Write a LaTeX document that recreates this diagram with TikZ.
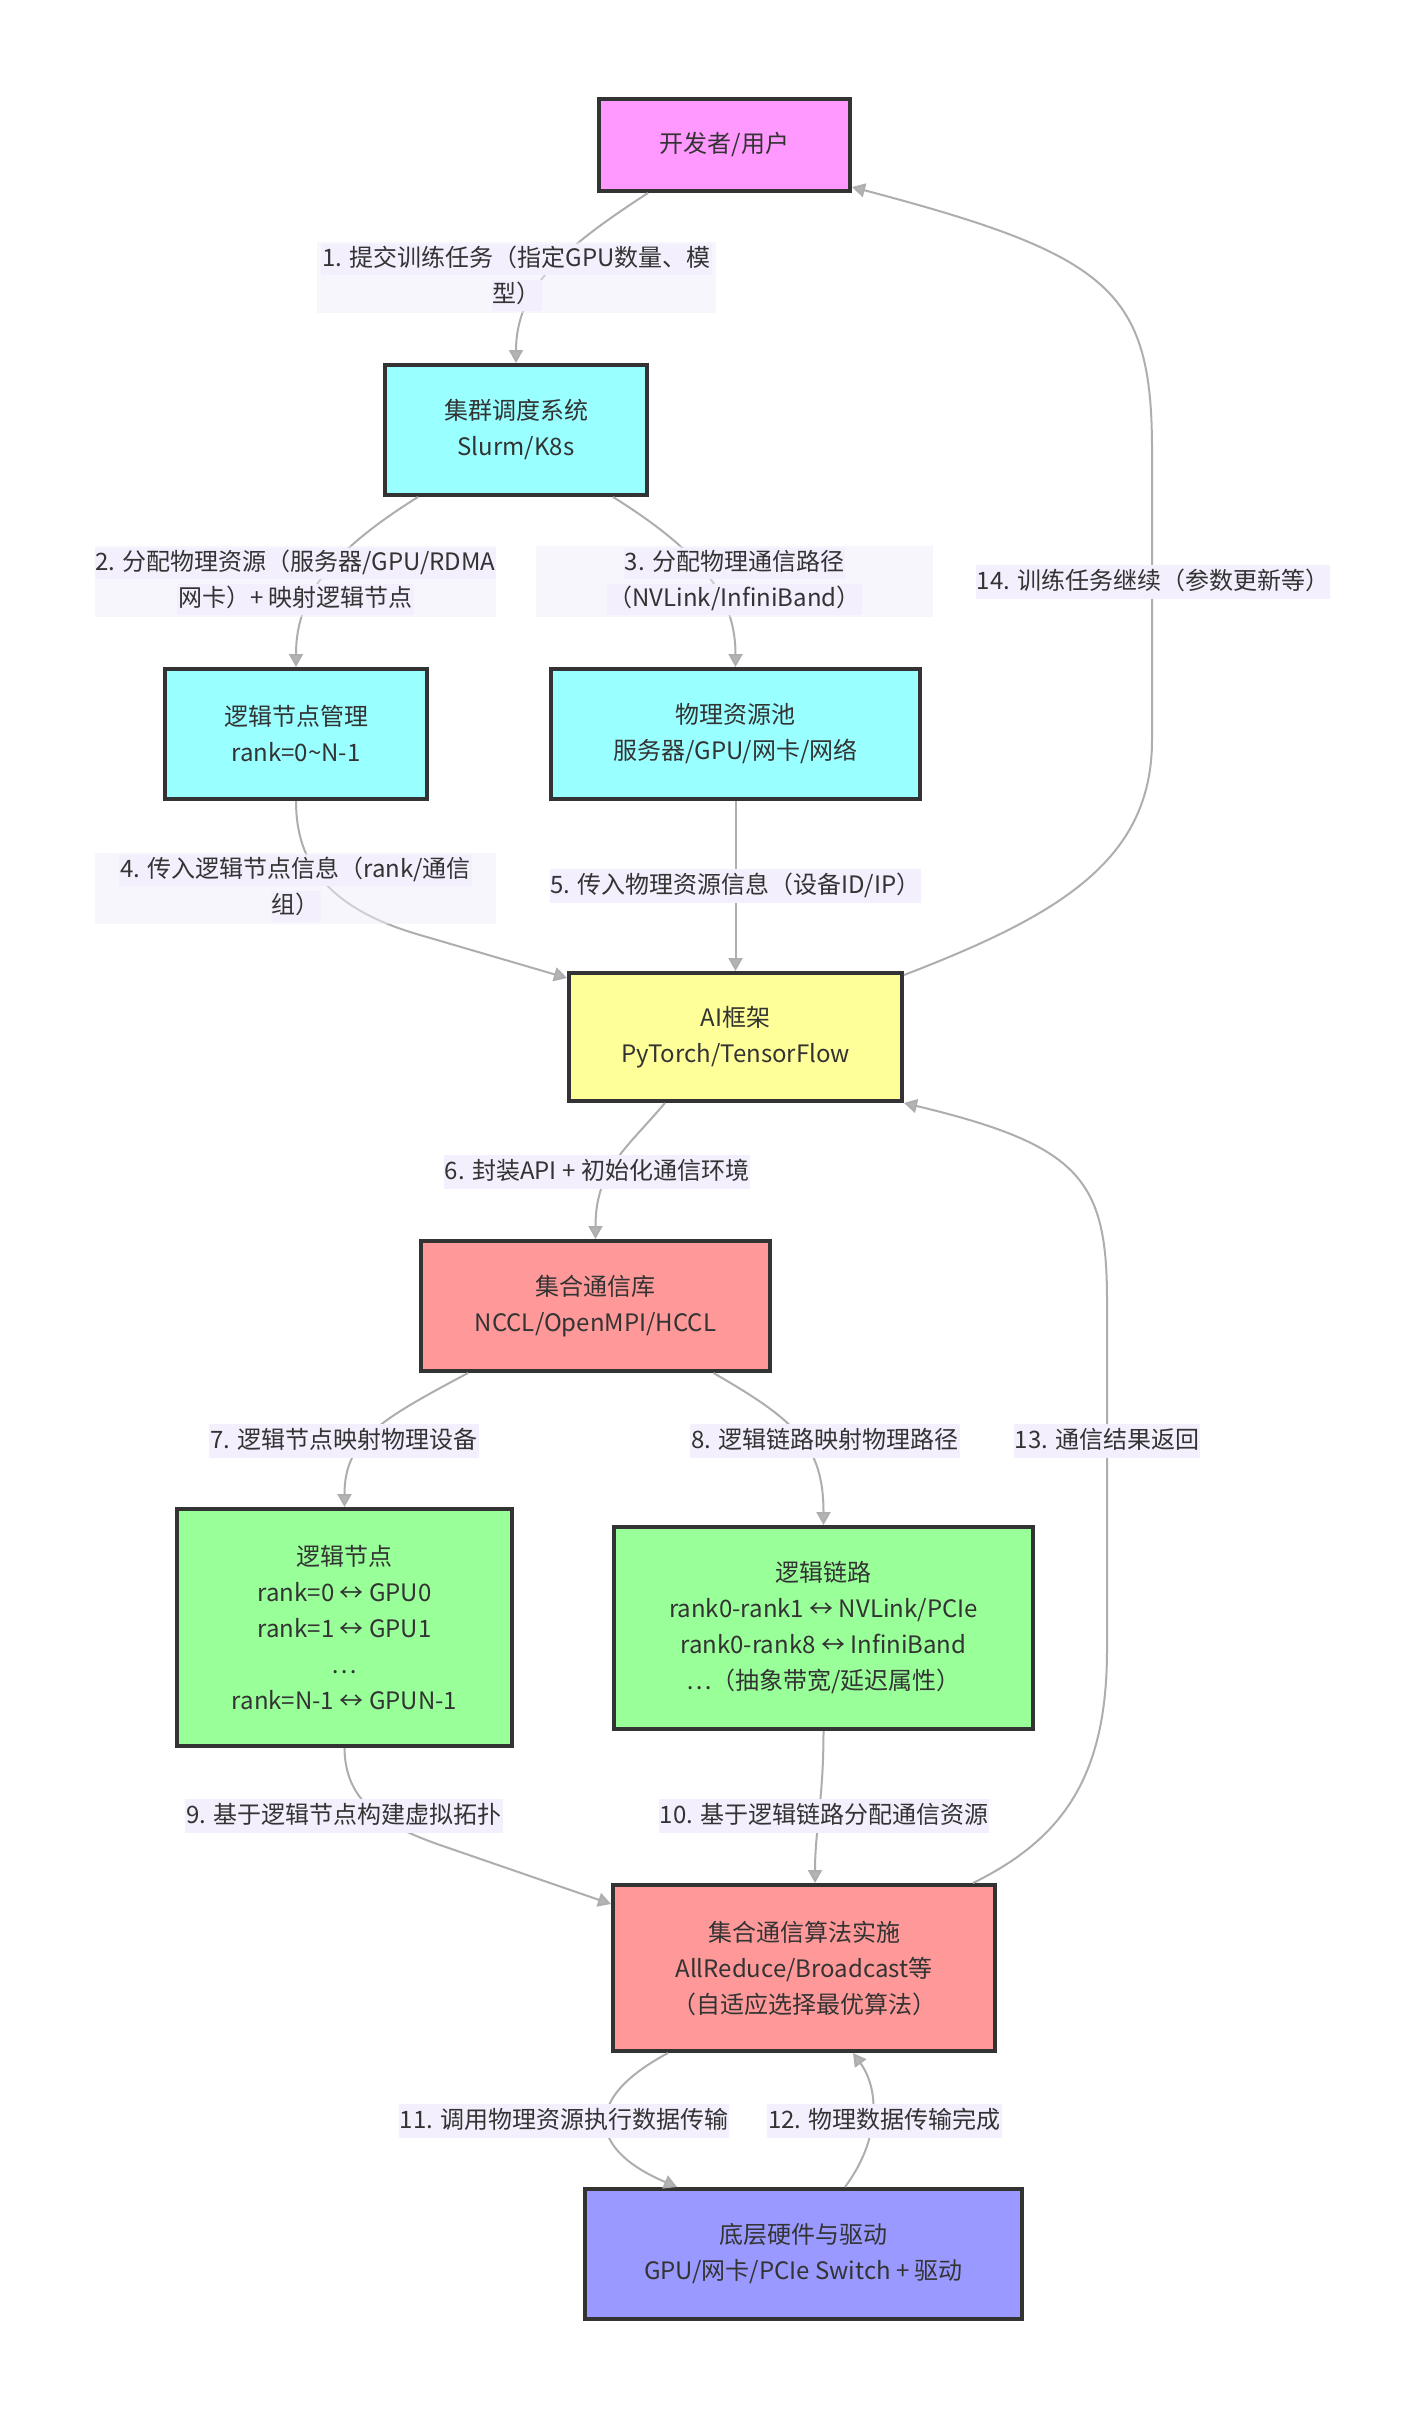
\documentclass[tikz,border=0pt]{standalone}
\usepackage{fontspec}
\setmainfont{Noto Sans CJK SC}
\usetikzlibrary{arrows.meta}
\definecolor{cpink}{HTML}{FF99FF}
\definecolor{ccyan}{HTML}{99FFFF}
\definecolor{cyel}{HTML}{FFFF99}
\definecolor{cred}{HTML}{FF9999}
\definecolor{cgreen}{HTML}{99FF99}
\definecolor{cblue}{HTML}{9999FF}
\definecolor{bord}{HTML}{333333}
\definecolor{txt}{HTML}{333333}
\definecolor{edgec}{HTML}{AEAEAE}
\definecolor{tipc}{HTML}{B4B4B4}
\definecolor{lav}{HTML}{F3EFFD}
\tikzset{
  box/.style={draw=bord, line width=4pt, rectangle, align=center, inner sep=0pt, text=txt, font=\fontsize{24}{36}\selectfont},
  conn/.style={draw=edgec, line width=2pt, -{Triangle[width=14pt,length=13pt,fill=tipc]}},
  lblout/.style={fill=lav, fill opacity=0.5, inner sep=0pt, minimum height=71pt},
  lblline/.style={fill=lav, text=txt, inner xsep=1pt, inner ysep=0pt, text height=21pt, text depth=7pt, minimum height=31pt, font=\fontsize{24}{36}\selectfont},
  lblsingle/.style={lblline, minimum height=34pt},
}
\begin{document}
\begin{tikzpicture}[x=1pt,y=-1pt]
\useasboundingbox (0,0) rectangle (1425,2416);
\fill[white] (0,0) rectangle (1425,2416);

% nodes
\node[box, fill=cpink, minimum width=251pt, minimum height=92pt] (dev) at (724.5,145) {开发者/用户};
\node[box, fill=ccyan, minimum width=262pt, minimum height=130pt] (sched) at (516,430) {集群调度系统\\Slurm/K8s};
\node[box, fill=ccyan, minimum width=262pt, minimum height=130pt] (lgm) at (296,734) {逻辑节点管理\\rank=0\textasciitilde N-1};
\node[box, fill=ccyan, minimum width=369pt, minimum height=130pt] (pool) at (735.5,734) {物理资源池\\服务器/GPU/网卡/网络};
\node[box, fill=cyel, minimum width=333pt, minimum height=128pt] (ai) at (735.5,1037) {AI框架\\PyTorch/TensorFlow};
\node[box, fill=cred, minimum width=349pt, minimum height=130pt] (lib) at (595.5,1306) {集合通信库\\NCCL/OpenMPI/HCCL};
\node[box, fill=cgreen, minimum width=335pt, minimum height=237pt] (lnodes) at (344.5,1627.5) {逻辑节点\\rank=0 ↔ GPU0\\rank=1 ↔ GPU1\\…\\rank=N-1 ↔ GPUN-1};
\node[box, fill=cgreen, minimum width=419pt, minimum height=202pt] (llinks) at (823.5,1628) {逻辑链路\\rank0-rank1 ↔ NVLink/PCIe\\rank0-rank8 ↔ InfiniBand\\…（抽象带宽/延迟属性）};
\node[box, fill=cred, minimum width=382pt, minimum height=166pt] (algo) at (804,1968) {集合通信算法实施\\AllReduce/Broadcast等\\（自适应选择最优算法）};
\node[box, fill=cblue, minimum width=437pt, minimum height=130pt] (hw) at (803.5,2254) {底层硬件与驱动\\GPU/网卡/PCIe Switch + 驱动};

% connectors
\draw[conn] ([xshift=-76.5pt]dev.south) .. controls (560,250) and (516,290) .. (sched.north);
\draw[conn] ([xshift=-98pt]sched.south) .. controls (325,555) and (296,600) .. (lgm.north);
\draw[conn] ([xshift=97pt]sched.south) .. controls (706,555) and (735.5,600) .. (pool.north);
\draw[conn] (lgm.south) .. controls (296,865) and (330,909) .. (420,935) -- ([yshift=-7pt]ai.north west);
\draw[conn] (pool.south) -- (ai.north);
\draw[conn] ([xshift=-70.5pt]ai.south) .. controls (625,1150) and (595.5,1170) .. (lib.north);
\draw[conn] ([xshift=-127.5pt]lib.south) .. controls (380,1420) and (344.5,1440) .. (lnodes.north);
\draw[conn] ([xshift=118pt]lib.south) .. controls (795,1420) and (823.5,1445) .. (llinks.north);
\draw[conn] (lnodes.south) .. controls (345,1800) and (380,1824) .. (440,1845) -- ([yshift=-21pt]algo.north west);
\draw[conn] (llinks.south) .. controls (823.5,1800) and (815,1830) .. ([xshift=11pt]algo.north);
\draw[conn] ([xshift=-136pt]algo.south) .. controls (580,2100) and (590,2150) .. ([xshift=-126.5pt]hw.north);
\draw[conn] ([xshift=41.5pt]hw.north) .. controls (880,2140) and (880,2090) .. ([xshift=49pt]algo.south);
\draw[conn] ([xshift=-24pt]algo.north east) .. controls (1060,1840) and (1107,1780) .. (1107,1650) -- (1107,1300) .. controls (1107,1180) and (1080,1145) .. (ai.south east);
\draw[conn] ([yshift=-4pt]ai.north east) .. controls (1060,915) and (1152,860) .. (1152,740) -- (1152,450) .. controls (1152,290) and (1110,255) .. ([yshift=6pt]dev.south east);

% labels
\node[lblout, minimum width=399pt] (l1) at (516.5,277.5) {};
\node[lblline] (l1a) at (516.5,259.5) {1. 提交训练任务（指定GPU数量、模};
\node[lblline] (l1b) at (516.5,295.5) {型）};

\node[lblout, minimum width=401pt] (l2) at (295.5,581.5) {};
\node[lblline] (l2a) at (295.5,563.5) {2. 分配物理资源（服务器/GPU/RDMA};
\node[lblline] (l2b) at (295.5,599.5) {网卡）+ 映射逻辑节点};

\node[lblout, minimum width=397pt] (l3) at (734.5,581.5) {};
\node[lblline] (l3a) at (734.5,563.5) {3. 分配物理通信路径};
\node[lblline] (l3b) at (734.5,599.5) {（NVLink/InfiniBand）};

\node[lblout, minimum width=401pt] (l4) at (295.5,888) {};
\node[lblline] (l4a) at (295.5,870) {4. 传入逻辑节点信息（rank/通信};
\node[lblline] (l4b) at (295.5,906) {组）};

\node[lblsingle] (l5) at (735.5,886) {5. 传入物理资源信息（设备ID/IP）};
\node[lblsingle] (l6) at (597,1172) {6. 封装API + 初始化通信环境};
\node[lblsingle] (l7) at (344,1441) {7. 逻辑节点映射物理设备};
\node[lblsingle] (l8) at (825,1441) {8. 逻辑链路映射物理路径};
\node[lblsingle] (l13) at (1107,1441) {13. 通信结果返回};
\node[lblsingle] (l9) at (344,1816) {9. 基于逻辑节点构建虚拟拓扑};
\node[lblsingle] (l10) at (824,1816) {10. 基于逻辑链路分配通信资源};
\node[lblsingle] (l11) at (564,2121) {11. 调用物理资源执行数据传输};
\node[lblsingle] (l12) at (884.5,2121) {12. 物理数据传输完成};
\node[lblsingle] (l14) at (1153,582) {14. 训练任务继续（参数更新等）};
\end{tikzpicture}
\end{document}
